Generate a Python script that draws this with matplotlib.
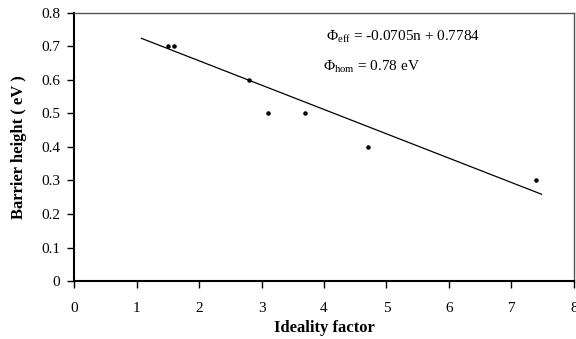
import matplotlib
matplotlib.use("Agg")
import matplotlib.pyplot as plt

# data
ideality = [1.5, 1.6, 2.8, 3.1, 3.7, 4.7, 7.4]
barrier = [0.7, 0.7, 0.6, 0.5, 0.5, 0.4, 0.3]

# trend line end points
fit_x = [1.08, 7.48]
fit_y = [0.724, 0.259]

x_ticks = [0, 1, 2, 3, 4, 5, 6, 7, 8]
y_ticks = [0, 0.1, 0.2, 0.3, 0.4, 0.5, 0.6, 0.7, 0.8]

plt.rcParams['font.family'] = ['Liberation Serif', 'DejaVu Serif']
plt.rcParams['mathtext.fontset'] = 'custom'
plt.rcParams['mathtext.rm'] = 'Liberation Serif'
plt.rcParams['mathtext.it'] = 'Liberation Serif:italic'

fig = plt.figure(figsize=(5.76, 3.39), dpi=100)
ax = fig.add_axes([0.1285, 0.171, 0.868, 0.791])

ax.plot(fit_x, fit_y, color='black', linewidth=0.9)
ax.scatter(ideality, barrier, s=5, color='black', zorder=3)

ax.set_xlim(0, 8)
ax.set_ylim(0, 0.8)
ax.set_xticks(x_ticks)
ax.set_yticks(y_ticks)
ax.set_xticklabels([str(t) for t in x_ticks])
ax.set_yticklabels(['0'] + [f'{t:.1f}' for t in y_ticks[1:]])
ax.tick_params(direction='out', length=5, width=1, labelsize=11)
ax.tick_params(axis='x', pad=10)
ax.tick_params(axis='y', pad=5)

for side in ['left', 'bottom']:
    ax.spines[side].set_linewidth(1.5)
    ax.spines[side].set_color('black')
for side in ['top', 'right']:
    ax.spines[side].set_linewidth(1.0)
    ax.spines[side].set_color('#555555')

ax.set_xlabel('Ideality factor', fontsize=12, fontweight='bold', labelpad=4)
ax.set_ylabel('Barrier height ( eV )', fontsize=12, fontweight='bold', labelpad=10)

# the "8" tick label is clipped at the right edge, as in the original
ax.text(4.03, 0.729, r'$\Phi_{\rm eff}$ = -0.0705n + 0.7784', fontsize=11, va='center')
ax.text(3.99, 0.639, r'$\Phi_{\rm hom}$ = 0.78 eV', fontsize=11, va='center')

fig.savefig('out.png', dpi=100)
